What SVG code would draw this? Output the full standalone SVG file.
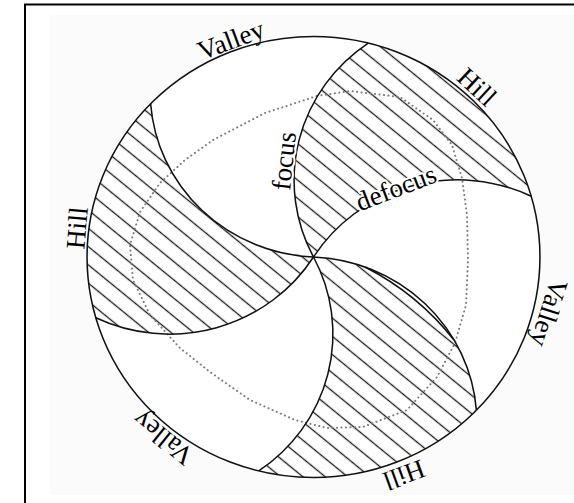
<svg xmlns="http://www.w3.org/2000/svg" width="574" height="503" viewBox="0 0 574 503">
<defs>
<pattern id="hatch" patternUnits="userSpaceOnUse" width="20" height="14" patternTransform="rotate(40)">
<line x1="-1" y1="7" x2="21" y2="7" stroke="#1a1a1a" stroke-width="1.3"/>
</pattern>
</defs>
<style>
.lbl{font-family:"Liberation Serif","Times New Roman",serif;font-size:27px;fill:#000;text-anchor:middle;dominant-baseline:central}
.edge{fill:none;stroke:#111;stroke-width:1.5}
.halo{paint-order:stroke;stroke:#fff;stroke-width:4px;stroke-linejoin:round}
.dots{fill:none;stroke:#7a7a7a;stroke-width:2;stroke-linecap:round;stroke-dasharray:0.1 4.4}
</style>
<rect width="574" height="503" fill="#fff"/>
<rect x="50" y="15" width="524" height="480" fill="#fbfbfb"/>
<path d="M25,503 V4.5 H574" fill="none" stroke="#000" stroke-width="2"/>

<g transform="translate(313.5,257) scale(1.027,1)">
<circle id="disk" r="220.5" fill="#fff"/>
<g id="hill-upper-right"><path fill="url(#hatch)" d="M0,0 A166,166 0 0 1 53.3,-213.9 A220.5,220.5 0 0 1 212,-60.8 A166,166 0 0 0 0,0 Z"/></g>
<g id="hill-bottom"><path fill="url(#hatch)" d="M0,0 A166,166 0 0 1 158.6,153.2 A220.5,220.5 0 0 1 -53.3,213.9 A166,166 0 0 0 0,0 Z"/></g>
<g id="hill-left"><path fill="url(#hatch)" d="M0,0 A166,166 0 0 1 -212,60.8 A220.5,220.5 0 0 1 -158.6,-153.2 A166,166 0 0 0 0,0 Z"/></g>
</g>

<g id="dotted-ring">
<path class="dots" d="M317,96 L350,91 L400,97 L433,120 L452,145 L462,178 L467,215 L468,260 L466,305 L455,343 L437,377 L407,410 L363,427 L327,428 L295,420 L250,400 L210,372 L180,348 L150,315 L133,280 L130,245 L140,212 L160,183 L185,160 L213,140 L265,113 Z"/>
</g>

<g id="connectors">
<g transform="translate(313.5,257) scale(1.027,1)">
<circle class="edge" r="220.5" stroke-width="1.6"/>
<path class="edge" d="M0,0 A166,166 0 0 1 53.3,-213.9"/>
<path class="edge" d="M0,0 A166,166 0 0 1 212,-60.8"/>
<path class="edge" d="M0,0 A166,166 0 0 1 158.6,153.2"/>
<path class="edge" d="M0,0 A166,166 0 0 1 -53.3,213.9"/>
<path class="edge" d="M0,0 A166,166 0 0 1 -212,60.8"/>
<path class="edge" d="M0,0 A166,166 0 0 1 -158.6,-153.2"/>
</g>
<path class="edge" stroke-width="1.1" d="M365,267 Q417.7,293.9 454,340"/>
</g>

<g id="labels">
<text class="lbl" transform="translate(231,40) rotate(-20.5)">Valley</text>
<text class="lbl" transform="translate(477,87) rotate(43)">Hill</text>
<text class="lbl" transform="translate(549,313) rotate(108)">Valley</text>
<text class="lbl" transform="translate(404,475) rotate(160)">Hill</text>
<text class="lbl" transform="translate(163,438) rotate(-141)">Valley</text>
<text class="lbl" transform="translate(77,228) rotate(-85)">Hill</text>
<text class="lbl halo" transform="translate(284,161) rotate(-84)">focus</text>
<text class="lbl halo" transform="translate(396,188) rotate(-21)">defocus</text>
</g>
</svg>
